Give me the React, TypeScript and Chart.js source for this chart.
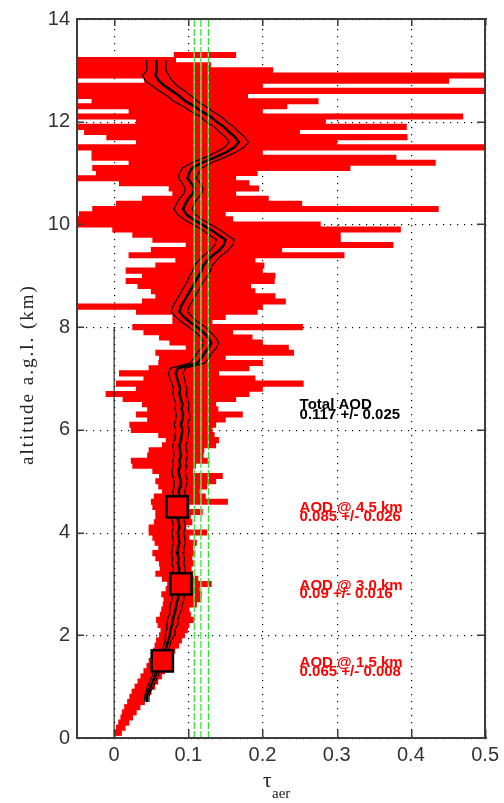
import React, { useEffect, useRef } from 'react';
import { Chart, registerables } from 'chart.js';

Chart.register(...registerables);

// Altitude levels (km)
const altitudes = [
  0.1, 0.2, 0.3, 0.4, 0.5, 0.6, 0.7, 0.8, 0.9, 1.0,
  1.1, 1.2, 1.3, 1.4, 1.5, 1.6, 1.7, 1.8, 1.9, 2.0,
  2.1, 2.2, 2.3, 2.4, 2.5, 2.6, 2.7, 2.8, 2.9, 3.0,
  3.1, 3.2, 3.3, 3.4, 3.5, 3.6, 3.7, 3.8, 3.9, 4.0,
  4.1, 4.2, 4.3, 4.4, 4.5, 4.6, 4.7, 4.8, 4.9, 5.0,
  5.1, 5.2, 5.3, 5.4, 5.5, 5.6, 5.7, 5.8, 5.9, 6.0,
  6.1, 6.2, 6.3, 6.4, 6.5, 6.6, 6.7, 6.8, 6.9, 7.0,
  7.1, 7.2, 7.3, 7.4, 7.5, 7.6, 7.7, 7.8, 7.9, 8.0,
  8.1, 8.2, 8.3, 8.4, 8.5, 8.6, 8.7, 8.8, 8.9, 9.0,
  9.1, 9.2, 9.3, 9.4, 9.5, 9.6, 9.7, 9.8, 9.9, 10.0,
  10.1, 10.2, 10.3, 10.4, 10.5, 10.6, 10.7, 10.8, 10.9, 11.0,
  11.1, 11.2, 11.3, 11.4, 11.5, 11.6, 11.7, 11.8, 11.9, 12.0,
  12.1, 12.2, 12.3, 12.4, 12.5, 12.6, 12.7, 12.8, 12.9, 13.0,
  13.1, 13.2, 13.3,
];

// Raw (noisy) tau_aer profile: extent of the red trace at each level
const redLow = [
  0.000, 0.003, 0.006, 0.009, 0.011, 0.014, 0.018, 0.021, 0.024, 0.028,
  0.032, 0.036, 0.040, 0.044, 0.047, 0.050, 0.053, 0.055, 0.057, 0.061,
  0.063, 0.059, 0.057, 0.062, 0.064, 0.066, 0.067, 0.064, 0.070, 0.072,
  0.065, 0.056, 0.062, 0.061, 0.056, 0.052, 0.060, 0.055, 0.052, 0.047,
  0.047, 0.054, 0.056, 0.056, 0.052, 0.050, 0.054, 0.065, 0.060, 0.056,
  0.061, 0.052, 0.025, 0.023, 0.045, 0.047, 0.065, 0.070, 0.060, 0.023,
  0.021, 0.045, 0.030, 0.045, 0.038, 0.012, -0.011, 0.030, 0.003, 0.040,
  0.007, 0.047, 0.060, 0.061, 0.056, 0.097, 0.075, 0.061, 0.040, 0.025,
  0.079, 0.079, 0.030, -0.050, 0.038, 0.056, 0.050, 0.032, 0.016, 0.038,
  0.016, 0.056, 0.083, 0.020, 0.050, 0.097, 0.052, 0.025, -0.002, -0.050,
  -0.050, -0.047, -0.029, 0.003, 0.038, 0.079, 0.074, 0.007, -0.050, -0.024,
  -0.029, 0.020, -0.030, -0.030, -0.050, 0.030, -0.010, -0.040, -0.050, 0.030,
  -0.050, 0.020, -0.050, -0.030, -0.050, -0.050, -0.050, 0.041, -0.050, -0.050,
  -0.050, -0.050, 0.081,
];
const redHigh = [
  0.010, 0.015, 0.020, 0.025, 0.030, 0.035, 0.041, 0.046, 0.050, 0.055,
  0.059, 0.064, 0.068, 0.072, 0.076, 0.079, 0.082, 0.087, 0.091, 0.095,
  0.099, 0.101, 0.108, 0.103, 0.101, 0.111, 0.117, 0.118, 0.115, 0.131,
  0.113, 0.106, 0.104, 0.107, 0.105, 0.109, 0.106, 0.111, 0.101, 0.125,
  0.097, 0.105, 0.103, 0.119, 0.101, 0.153, 0.123, 0.115, 0.125, 0.137,
  0.146, 0.106, 0.110, 0.128, 0.120, 0.121, 0.137, 0.141, 0.135, 0.132,
  0.137, 0.150, 0.173, 0.140, 0.137, 0.164, 0.182, 0.200, 0.255, 0.190,
  0.141, 0.182, 0.200, 0.150, 0.242, 0.235, 0.200, 0.186, 0.160, 0.254,
  0.132, 0.150, 0.193, 0.200, 0.231, 0.217, 0.190, 0.184, 0.216, 0.217,
  0.200, 0.202, 0.190, 0.310, 0.226, 0.376, 0.305, 0.305, 0.386, 0.278,
  0.160, 0.150, 0.437, 0.253, 0.208, 0.164, 0.195, 0.182, 0.164, 0.193,
  0.318, 0.433, 0.380, 0.200, 0.500, 0.300, 0.395, 0.250, 0.394, 0.285,
  0.470, 0.200, 0.233, 0.275, 0.180, 0.500, 0.200, 0.451, 0.500, 0.214,
  0.130, 0.083, 0.164,
];

// Smoothed profile (black) and its spread, per level (null = not drawn)
const profileMean = [
  null, null, null, null, null, null, 0.044, 0.044, 0.046, 0.049,
  0.052, 0.055, 0.058, 0.062, 0.065, 0.067, 0.069, 0.071, 0.073, 0.075,
  0.076, 0.078, 0.079, 0.081, 0.083, 0.084, 0.086, 0.087, 0.088, 0.089,
  0.088, 0.087, 0.088, 0.086, 0.087, 0.085, 0.086, 0.088, 0.087, 0.086,
  0.088, 0.087, 0.085, 0.084, 0.084, 0.086, 0.088, 0.087, 0.089, 0.090,
  0.088, 0.087, 0.089, 0.088, 0.090, 0.089, 0.088, 0.090, 0.091, 0.092,
  0.090, 0.092, 0.093, 0.091, 0.092, 0.090, 0.088, 0.089, 0.087, 0.085,
  0.083, 0.086, 0.112, 0.118, 0.122, 0.128, 0.131, 0.127, 0.120, 0.112,
  0.102, 0.094, 0.088, 0.090, 0.094, 0.098, 0.102, 0.106, 0.110, 0.114,
  0.118, 0.120, 0.126, 0.133, 0.142, 0.148, 0.150, 0.140, 0.130, 0.118,
  0.106, 0.097, 0.093, 0.096, 0.100, 0.106, 0.108, 0.104, 0.099, 0.101,
  0.105, 0.118, 0.135, 0.150, 0.162, 0.168, 0.163, 0.155, 0.148, 0.138,
  0.130, 0.118, 0.108, 0.096, 0.088, 0.078, 0.068, 0.060, 0.056, 0.057,
  0.057, 0.057, null,
];
const profileSpread = [
  null, null, null, null, null, null, 0.003, 0.003, 0.003, 0.004,
  0.004, 0.004, 0.004, 0.004, 0.004, 0.004, 0.004, 0.004, 0.004, 0.006,
  0.006, 0.007, 0.007, 0.007, 0.008, 0.008, 0.008, 0.008, 0.008, 0.008,
  0.008, 0.008, 0.008, 0.008, 0.008, 0.008, 0.008, 0.008, 0.008, 0.008,
  0.008, 0.008, 0.008, 0.008, 0.008, 0.008, 0.008, 0.008, 0.008, 0.009,
  0.009, 0.009, 0.009, 0.009, 0.009, 0.009, 0.009, 0.009, 0.009, 0.009,
  0.009, 0.009, 0.009, 0.009, 0.009, 0.009, 0.009, 0.009, 0.009, 0.010,
  0.010, 0.010, 0.010, 0.010, 0.010, 0.010, 0.010, 0.010, 0.010, 0.011,
  0.011, 0.011, 0.011, 0.011, 0.011, 0.011, 0.011, 0.011, 0.011, 0.012,
  0.012, 0.012, 0.012, 0.012, 0.012, 0.012, 0.012, 0.012, 0.012, 0.012,
  0.012, 0.012, 0.012, 0.012, 0.012, 0.012, 0.012, 0.012, 0.012, 0.013,
  0.013, 0.013, 0.013, 0.013, 0.013, 0.013, 0.013, 0.013, 0.013, 0.014,
  0.014, 0.015, 0.015, 0.016, 0.016, 0.017, 0.017, 0.018, 0.018, 0.013,
  0.013, 0.013, null,
];

// Layer AOD markers
const markerAod = [0.065, 0.09, 0.085];
const markerAlt = [1.5, 3.0, 4.5];

// Total AOD (mean and +/- band shown as dashed green lines)
const totalAodLines = [0.108, 0.117, 0.127];
const fullAltRange = [0, 14];
const zeroLineAlt = [0, 8];

const xTicks = [0, 0.1, 0.2, 0.3, 0.4, 0.5];
const xTickLabels = ['0', '0.1', '0.2', '0.3', '0.4', '0.5'];
const yTicks = [0, 2, 4, 6, 8, 10, 12, 14];
const yTickLabels = ['0', '2', '4', '6', '8', '10', '12', '14'];

const noteX = [0.25, 0.25, 0.25, 0.25];
const noteAlt1 = [6.40, 4.41, 2.89, 1.38];
const noteAlt2 = [6.21, 4.22, 2.72, 1.21];
const noteLine1 = ['Total AOD', 'AOD @ 4.5 km', 'AOD @ 3.0 km', 'AOD @ 1.5 km'];
const noteLine2 = ['0.117 +/- 0.025', '0.085 +/- 0.026', '0.09 +/- 0.016', '0.065 +/- 0.008'];
const noteColor = ['#000000', '#ff0000', '#ff0000', '#ff0000'];

// frame + inward ticks, drawn with filled rectangles
function drawFrame(chart: any) {
  const { ctx, chartArea: a, scales } = chart;
  const xs = scales.x, ys = scales.y;
  const L = Math.round(a.left) - 1;
  const R = Math.round(a.right);
  const T = Math.round(a.top) - 1;
  const B = Math.round(a.bottom);
  const w = 2;
  const tl = 8;
  ctx.save();
  ctx.globalAlpha = 1;
  ctx.fillStyle = '#3c3c3c';
  ctx.fillRect(L, T, R - L + w, w);
  ctx.fillRect(L, B - 1, R - L + w, w);
  ctx.fillRect(L, T, w, B - T + 1);
  ctx.fillRect(R - 1, T, w, B - T + 1);
  xTicks.forEach((v) => {
    const p = Math.round(xs.getPixelForValue(v));
    ctx.fillRect(p, B - tl, w - 0.5, tl);
    ctx.fillRect(p, T, w - 0.5, tl);
  });
  yTicks.forEach((v) => {
    const p = Math.round(ys.getPixelForValue(v));
    ctx.fillRect(L, p - 0.5, tl, w - 0.5);
    ctx.fillRect(R - tl, p - 0.5, tl, w - 0.5);
  });
  ctx.restore();
}

// dotted grid, drawn with 1px dots
function drawGrid(chart: any) {
  const { ctx, chartArea: a, scales } = chart;
  const xs = scales.x, ys = scales.y;
  ctx.save();
  ctx.fillStyle = '#000';
  xTicks.forEach((v) => {
    const p = Math.round(xs.getPixelForValue(v));
    for (let y = a.bottom - 2; y > a.top; y -= 7) ctx.fillRect(p, Math.round(y), 1.2, 1.2);
  });
  yTicks.forEach((v) => {
    const p = Math.round(ys.getPixelForValue(v));
    for (let x = a.left + 2; x < a.right; x += 7) ctx.fillRect(Math.round(x), p, 1.2, 1.2);
  });
  ctx.restore();
}

const decorPlugin = {
  id: 'decor',
  beforeDatasetsDraw(chart: any) {
    drawGrid(chart);
  },
  afterDraw(chart: any) {
    const { ctx, chartArea: a, scales } = chart;
    const xs = scales.x, ys = scales.y;
    ctx.save();
    // annotations
    ctx.font = 'bold 15px "Liberation Sans", Arial, sans-serif';
    ctx.textAlign = 'left';
    ctx.textBaseline = 'alphabetic';
    noteLine1.forEach((t, i) => {
      ctx.fillStyle = noteColor[i];
      const x = xs.getPixelForValue(noteX[i]);
      ctx.fillText(t, x, ys.getPixelForValue(noteAlt1[i]));
      ctx.fillText(noteLine2[i], x, ys.getPixelForValue(noteAlt2[i]));
    });
    // y axis title
    ctx.fillStyle = '#222';
    ctx.save();
    ctx.translate(28, (a.top + a.bottom) / 2 - 4);
    ctx.rotate(-Math.PI / 2);
    ctx.font = '19px "Liberation Serif", "Times New Roman", serif';
    (ctx as any).letterSpacing = '2px';
    ctx.textAlign = 'center';
    ctx.textBaseline = 'middle';
    ctx.fillText('altitude a.g.l. (km)', 0, 0);
    ctx.restore();
    // x axis title
    const cx = (a.left + a.right) / 2;
    ctx.textAlign = 'left';
    ctx.font = '21px "Liberation Serif", "Times New Roman", serif';
    ctx.fillText('\u03C4', cx - 18, 787);
    ctx.font = '15px "Liberation Serif", "Times New Roman", serif';
    ctx.fillText('aer', cx - 9, 798);
    ctx.restore();
    drawFrame(chart);
  },
};

export default function App() {
  const ref = useRef<HTMLCanvasElement | null>(null);

  useEffect(() => {
    const canvas = ref.current;
    if (!canvas) return;

    const barData = altitudes.map((alt, i) => ({ y: alt, x: [redLow[i], redHigh[i]] }));
    const meanPts: any[] = [];
    const loPts: any[] = [];
    const hiPts: any[] = [];
    altitudes.forEach((alt, i) => {
      const m = profileMean[i];
      const s = profileSpread[i];
      if (m === null || s === null) return;
      meanPts.push({ x: m, y: alt });
      loPts.push({ x: m - s, y: alt });
      hiPts.push({ x: m + s, y: alt });
    });

    const lineBase = {
      type: 'line' as const,
      showLine: true,
      pointRadius: 0,
      fill: false,
      tension: 0,
    };

    const datasets: any[] = [
      {
        type: 'scatter',
        data: markerAod.map((v, i) => ({ x: v, y: markerAlt[i] })),
        pointStyle: 'rect',
        pointRadius: 15,
        backgroundColor: '#ff0000',
        borderColor: '#000',
        borderWidth: 2.5,
        showLine: false,
      },
      ...totalAodLines.map((v) => ({
        ...lineBase,
        data: fullAltRange.map((a) => ({ x: v, y: a })),
        borderColor: '#00e000',
        borderWidth: 1,
        borderDash: [7, 2],
      })),
      ...totalAodLines.map((v) => ({
        ...lineBase,
        data: fullAltRange.map((a) => ({ x: v, y: a })),
        borderColor: '#ffffff',
        borderWidth: 1,
      })),
      { ...lineBase, data: meanPts, borderColor: '#000', borderWidth: 2.5 },
      { ...lineBase, data: loPts, borderColor: '#000', borderWidth: 1.2 },
      { ...lineBase, data: hiPts, borderColor: '#000', borderWidth: 1.2 },
      {
        ...lineBase,
        data: zeroLineAlt.map((a) => ({ x: 0, y: a })),
        borderColor: '#000',
        borderWidth: 1,
      },
      {
        type: 'bar',
        indexAxis: 'y',
        data: barData,
        backgroundColor: '#ff0000',
        borderWidth: 0,
        barThickness: 5.4,
        grouped: false,
      },
    ];

    const tickFont = { family: '"Liberation Sans", Arial, sans-serif', size: 20 };

    const chart = new Chart(canvas, {
      type: 'scatter',
      data: { datasets },
      options: {
        animation: false,
        responsive: false,
        maintainAspectRatio: false,
        devicePixelRatio: 1,
        layout: { padding: { top: 17.5, right: 17, left: 0, bottom: 0 } },
        plugins: { legend: { display: false }, tooltip: { enabled: false } },
        scales: {
          x: {
            type: 'linear',
            min: -0.05,
            max: 0.5,
            offset: false,
            afterBuildTicks: (s: any) => { s.ticks = xTicks.map((v) => ({ value: v })); },
            afterFit: (s: any) => { s.height = 65; },
            grid: { display: false, drawTicks: false, offset: false },
            border: { display: false },
            ticks: {
              font: tickFont,
              color: '#333',
              padding: 5,
              maxRotation: 0,
              autoSkip: false,
              callback: (_v: any, i: number) => xTickLabels[i],
            },
          },
          y: {
            type: 'linear',
            min: 0,
            max: 14,
            offset: false,
            afterBuildTicks: (s: any) => { s.ticks = yTicks.map((v) => ({ value: v })); },
            afterFit: (s: any) => { s.width = 77; },
            grid: { display: false, drawTicks: false, offset: false },
            border: { display: false },
            ticks: {
              font: tickFont,
              color: '#333',
              padding: 7,
              autoSkip: false,
              callback: (_v: any, i: number) => yTickLabels[i],
            },
          },
        },
      } as any,
      plugins: [decorPlugin],
    } as any);

    return () => { chart.destroy(); };
  }, []);

  return (
    <div style={{ position: 'absolute', left: 0, top: 0, width: 504, height: 803, background: '#fff' }}>
      <canvas ref={ref} width={504} height={803} style={{ width: 504, height: 803, display: 'block' }} />
    </div>
  );
}
